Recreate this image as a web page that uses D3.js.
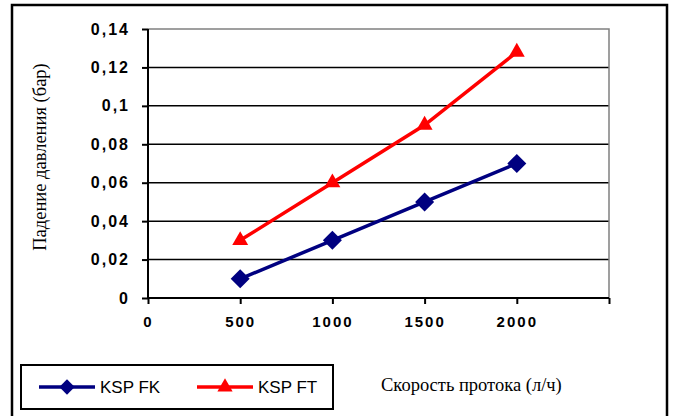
<!DOCTYPE html>
<html>
<head>
<meta charset="utf-8">
<script src="https://cdn.jsdelivr.net/npm/d3@7"></script>
<style>
body { margin: 0; background: #fff; }
svg { display: block; }
</style>
</head>
<body>
<script>
var flows = [500, 1000, 1500, 2000];
var kspFK = [0.01, 0.03, 0.05, 0.07];
var kspFT = [0.03, 0.06, 0.09, 0.128];
var seriesNames = ["KSP FK", "KSP FT"];
var yTicks = [0, 0.02, 0.04, 0.06, 0.08, 0.1, 0.12, 0.14];
var xTicks = [0, 500, 1000, 1500, 2000, 2500];
var xLabels = ["0", "500", "1000", "1500", "2000", ""];

var width = 675, height = 416;
var plot = {left: 148, top: 29, right: 609, bottom: 298};

var svg = d3.select("body").append("svg")
    .attr("width", width)
    .attr("height", height);

// outer frame (bottom cut off like the scan)
svg.append("path")
    .attr("d", "M12,420 V5 H667 V420")
    .attr("fill", "none")
    .attr("stroke", "#000")
    .attr("stroke-width", 2.5);

var x = d3.scaleLinear().domain([0, 2500]).range([plot.left, plot.right]);
var y = d3.scaleLinear().domain([0, 0.14]).range([plot.bottom, plot.top]);

// grid lines
svg.selectAll(".grid")
    .data(yTicks.slice(1, -1))
  .enter().append("line")
    .attr("x1", plot.left).attr("x2", plot.right)
    .attr("y1", function(d) { return y(d); })
    .attr("y2", function(d) { return y(d); })
    .attr("stroke", "#000")
    .attr("stroke-width", 1.5);

// plot area border top & right (gray)
svg.append("path")
    .attr("d", "M" + plot.left + "," + plot.top + " H" + plot.right + " V" + plot.bottom)
    .attr("fill", "none")
    .attr("stroke", "#808080")
    .attr("stroke-width", 1.5);

// y axis
var yAxis = svg.append("g")
    .attr("transform", "translate(" + plot.left + ",0)")
    .call(d3.axisLeft(y).tickValues(yTicks).tickSize(6).tickPadding(12)
        .tickFormat(function(d) { return d3.format(".2~f")(d).replace(".", ","); }));
yAxis.select(".domain").attr("stroke-width", 2).attr("d", "M0," + plot.bottom + "V" + plot.top);
yAxis.selectAll(".tick line").attr("stroke-width", 2);
yAxis.selectAll(".tick text")
    .attr("font-family", "Liberation Sans, Arial, sans-serif")
    .attr("font-size", 16)
    .attr("font-weight", "bold")
    .attr("letter-spacing", 2)
    .attr("fill", "#000");

// x axis
var xAxis = svg.append("g")
    .attr("transform", "translate(0," + plot.bottom + ")")
    .call(d3.axisBottom(x).tickValues(xTicks).tickSize(6).tickPadding(12)
        .tickFormat(function(d, i) { return xLabels[i]; }));
xAxis.select(".domain").attr("stroke-width", 2).attr("d", "M" + plot.left + ",0H" + plot.right);
xAxis.selectAll(".tick line").attr("stroke-width", 2);
xAxis.selectAll(".tick text")
    .attr("font-family", "Liberation Sans, Arial, sans-serif")
    .attr("font-size", 15)
    .attr("font-weight", "bold")
    .attr("letter-spacing", 2)
    .attr("fill", "#000");

// axis titles
svg.append("text")
    .attr("transform", "translate(46,157) rotate(-90)")
    .attr("text-anchor", "middle")
    .attr("font-family", "Liberation Serif, Times New Roman, serif")
    .attr("font-size", 18.5)
    .text("Падение давления (бар)");

svg.append("text")
    .attr("x", 381).attr("y", 391)
    .attr("font-family", "Liberation Serif, Times New Roman, serif")
    .attr("font-size", 18.5)
    .text("Скорость протока (л/ч)");

var diamond = d3.symbol().type(d3.symbolDiamond2).size(230);
var triangle = d3.symbol().type(d3.symbolTriangle).size(110);

var series = [
    {name: seriesNames[0], values: kspFK, color: "#000080", sym: diamond},
    {name: seriesNames[1], values: kspFT, color: "#FF0000", sym: triangle}
];

var line = d3.line()
    .x(function(d, i) { return x(flows[i]); })
    .y(function(d) { return y(d); });

series.forEach(function(s) {
    svg.append("path")
        .attr("d", line(s.values))
        .attr("fill", "none")
        .attr("stroke", s.color)
        .attr("stroke-width", 3.5);
    svg.selectAll(null)
        .data(s.values)
      .enter().append("path")
        .attr("d", s.sym)
        .attr("transform", function(d, i) { return "translate(" + x(flows[i]) + "," + y(d) + ")"; })
        .attr("fill", s.color);
});

// legend
var legend = svg.append("g");
legend.append("rect")
    .attr("x", 21).attr("y", 365)
    .attr("width", 312).attr("height", 44)
    .attr("fill", "#fff")
    .attr("stroke", "#000")
    .attr("stroke-width", 2);

var legendX = [39, 197];
series.forEach(function(s, i) {
    var lx = legendX[i];
    legend.append("line")
        .attr("x1", lx).attr("x2", lx + 56)
        .attr("y1", 387).attr("y2", 387)
        .attr("stroke", s.color)
        .attr("stroke-width", 3.5);
    legend.append("path")
        .attr("d", i === 0 ? d3.symbol().type(d3.symbolDiamond2).size(150)() : d3.symbol().type(d3.symbolTriangle).size(100)())
        .attr("transform", "translate(" + (lx + 28) + ",387)")
        .attr("fill", s.color);
    legend.append("text")
        .attr("x", lx + 61).attr("y", 393)
        .attr("font-family", "Liberation Sans, Arial, sans-serif")
        .attr("font-size", 17)
        .text(s.name);
});
</script>
</body>
</html>
